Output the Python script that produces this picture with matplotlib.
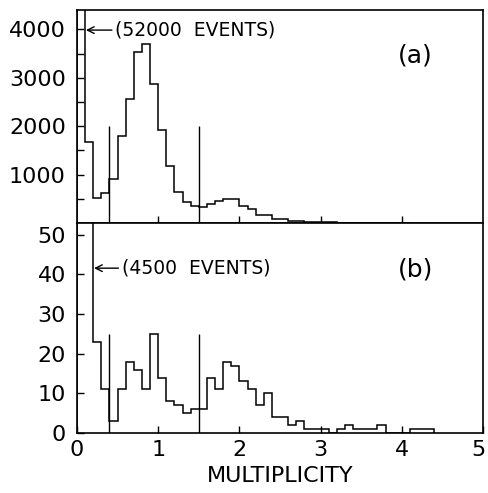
import numpy as np
import matplotlib
matplotlib.use('Agg')
import matplotlib.pyplot as plt
import matplotlib.transforms as mtransforms

# bin width 0.1 in multiplicity
bin_w = 0.1

# panel (a): counts per bin, first bin is off scale (total 52000 events)
counts_a = [25800, 1680, 510, 625, 905, 1795, 2570, 3530, 3690, 2865,
            1920, 1180, 645, 440, 355, 330, 390, 455, 500, 490,
            355, 280, 175, 160, 90, 75, 45, 35, 22, 18,
            12, 10, 8, 6, 4, 3, 2, 2, 1, 1, 1]

# panel (b): counts per bin, first two bins off scale (total 4500 events)
counts_b = [3400, 808, 23, 11, 3, 11, 18, 16, 11, 25,
            14, 8, 7, 5, 6, 6, 14, 11, 18, 17,
            13, 11, 7, 10, 4, 4, 2, 3, 1, 1,
            1, 0, 1, 2, 1, 1, 1, 2, 0, 0,
            0, 1, 1, 1]

# cut lines
cut_x = [0.4, 1.5]
cut_h_a = 2000
cut_h_b = 25

plt.rcParams['font.family'] = ['DejaVu Sans']

fig = plt.figure(figsize=(4.88, 4.93), dpi=100)
ax1 = fig.add_axes([0.1578, 0.5477, 0.832, 0.432])
ax2 = fig.add_axes([0.1578, 0.1217, 0.832, 0.426])

edges_a = np.round(np.arange(len(counts_a) + 1) * bin_w, 3)
edges_b = np.round(np.arange(len(counts_b) + 1) * bin_w, 3)

ax1.stairs(counts_a, edges_a, baseline=0, color='black', lw=1.1)
ax1.vlines(cut_x, 0, cut_h_a, color='black', lw=1.0)
ax2.stairs(counts_b, edges_b, baseline=0, color='black', lw=1.1)
ax2.vlines(cut_x, 0, cut_h_b, color='black', lw=1.0)

ax1.set_xlim(0, 5)
ax1.set_ylim(0, 4400)
ax2.set_xlim(0, 5)
ax2.set_ylim(0, 53)

ax1.set_yticks([1000, 2000, 3000, 4000])
ax1.set_yticks(np.arange(500, 4400, 1000), minor=True)
ax1.set_xticks([1, 2, 3, 4])
ax1.tick_params(axis='x', labelbottom=False)
ax2.set_yticks([0, 10, 20, 30, 40, 50])
ax2.set_xticks([0, 1, 2, 3, 4, 5])

for ax in (ax1, ax2):
    ax.tick_params(which='both', direction='in', length=5, width=1.0,
                   labelsize=16, right=False, top=False)
    ax.tick_params(axis='y', pad=8)
    ax.tick_params(axis='x', pad=5)
    for s in ax.spines.values():
        s.set_linewidth(1.2)

# keep the last x label inside the figure
last = ax2.get_xticklabels()[-1]
last.set_transform(last.get_transform() +
                   mtransforms.ScaledTranslation(-3 / 72, 0, fig.dpi_scale_trans))

ax2.set_xlabel('MULTIPLICITY', fontsize=16, labelpad=4)

arrow = dict(arrowstyle='->', lw=1.0, color='black', shrinkA=0, shrinkB=0,
             mutation_scale=12)
ax1.annotate('', xy=(0.11, 3985), xytext=(0.43, 3985), arrowprops=arrow)
ax1.text(0.47, 3985, '(52000  EVENTS)', fontsize=13.5, va='center', ha='left')
ax1.text(4.16, 3470, '(a)', fontsize=18, va='center', ha='center')

ax2.annotate('', xy=(0.21, 41.6), xytext=(0.51, 41.6), arrowprops=arrow)
ax2.text(0.56, 41.6, '(4500  EVENTS)', fontsize=13.5, va='center', ha='left')
ax2.text(4.17, 41.2, '(b)', fontsize=18, va='center', ha='center')

fig.savefig('out.png', dpi=100)
